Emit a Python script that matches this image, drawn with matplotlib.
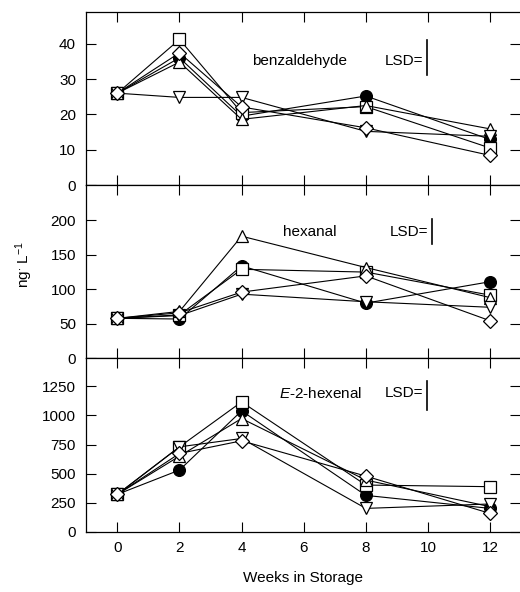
import matplotlib
matplotlib.use("Agg")
import matplotlib.pyplot as plt

plt.rcParams["font.family"] = ["Liberation Sans", "DejaVu Sans"]
plt.rcParams["mathtext.fontset"] = "custom"
plt.rcParams["mathtext.rm"] = "Liberation Sans"
plt.rcParams["mathtext.it"] = "Liberation Sans:italic"

weeks = [0, 2, 4, 8, 12]

# benzaldehyde
benz_circle = [26, 36, 19.5, 25.2, 12.9]
benz_square = [26, 41.2, 20.5, 22.2, 10.5]
benz_tri_up = [26, 34.8, 18.6, 22.5, 15.9]
benz_tri_down = [26, 24.8, 24.8, 15.2, 13.8]
benz_diamond = [26, 37.4, 22.1, 16.2, 8.4]

# hexanal
hex_circle = [58, 57, 134, 80, 111]
hex_square = [58, 63, 129, 125, 91.6]
hex_tri_up = [58, 68, 177, 131.6, 88]
hex_tri_down = [58, 62, 93, 82, 74]
hex_diamond = [58, 66, 96, 119.5, 54.5]

# E-2-hexenal
ehex_circle = [321, 530, 1040, 312, 200]
ehex_square = [321, 730, 1117, 401, 387]
ehex_tri_up = [321, 650, 974, 444, 215]
ehex_tri_down = [321, 730, 802, 200, 238]
ehex_diamond = [321, 673, 782, 478, 157]

panels = [
    ("benzaldehyde", [benz_circle, benz_square, benz_tri_up, benz_tri_down, benz_diamond],
     49, [0, 10, 20, 30, 40], 5.85, 35, 9.97, (31, 41)),
    ("hexanal", [hex_circle, hex_square, hex_tri_up, hex_tri_down, hex_diamond],
     251, [0, 50, 100, 150, 200], 6.2, 183, 10.13, (165.5, 202.5)),
    ("$\\mathit{E}$-2-hexenal", [ehex_circle, ehex_square, ehex_tri_up, ehex_tri_down, ehex_diamond],
     1492, [0, 250, 500, 750, 1000, 1250], 6.55, 1190, 9.97, (1051, 1293)),
]

markers = [("o", "black", 8.5), ("s", "white", 8.5), ("^", "white", 9),
           ("v", "white", 9), ("D", "white", 7)]

fig, axes = plt.subplots(3, 1, figsize=(5.2, 5.92), dpi=100, sharex=True)
fig.subplots_adjust(left=0.165, right=1.0, top=0.98, bottom=0.102, hspace=0)

for ax, (name, series, ymax, yticks, tx, ty, lx, lsd) in zip(axes, panels):
    for vals, (m, fc, ms) in zip(series, markers):
        ax.plot(weeks, vals, color="black", lw=0.8, marker=m, markersize=ms,
                markerfacecolor=fc, markeredgecolor="black", markeredgewidth=0.9)
    ax.set_ylim(0, ymax)
    ax.set_yticks(yticks)
    ax.set_xlim(-1.017, 12.965)
    ax.set_xticks([0, 2, 4, 6, 8, 10, 12])
    ax.tick_params(direction="in", length=7, width=0.8, labelsize=11, pad=7,
                   top=True, right=True)
    ax.spines["right"].set_visible(False)
    for s in ["left", "top", "bottom"]:
        ax.spines[s].set_linewidth(0.9)
    ax.text(tx, ty, name, ha="center", va="center", fontsize=11)
    ax.text(lx - 0.12, ty, "LSD=", ha="right", va="center", fontsize=11)
    ax.plot([lx, lx], lsd, color="black", lw=1.2)

axes[2].set_xlabel("Weeks in Storage", fontsize=11, labelpad=11)
fig.text(0.046, 0.554, "ng$^{\\cdot}$ L$^{-1}$", rotation=90, ha="center", va="center", fontsize=11)

fig.savefig("out.png", dpi=100)
